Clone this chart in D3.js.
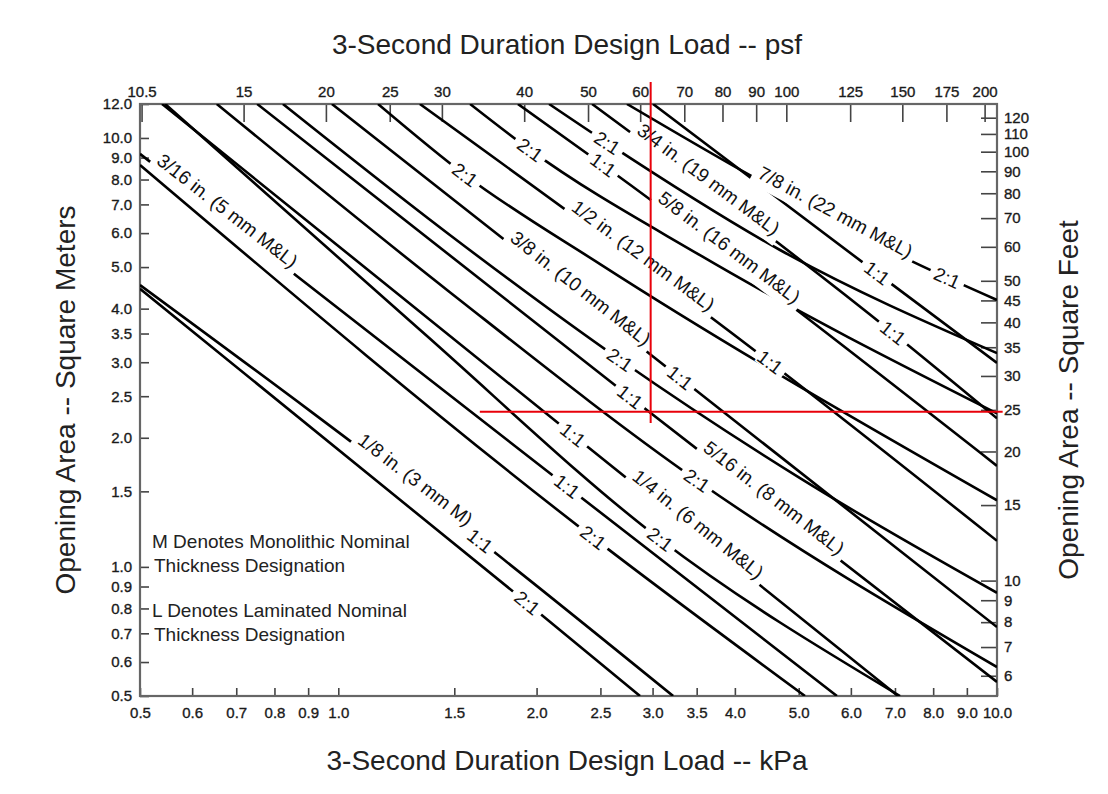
<!DOCTYPE html>
<html><head><meta charset="utf-8">
<script src="https://cdn.jsdelivr.net/npm/d3@7"></script>
<style>
body{margin:0;background:#fff}
svg{display:block}
text{font-family:"Liberation Sans",Arial,Helvetica,sans-serif}
</style>
</head><body>
<svg id="c" width="1108" height="794"></svg>
<script>
// ---- tick values ----
const kpaTicks = [0.5,0.6,0.7,0.8,0.9,1.0,1.5,2.0,2.5,3.0,3.5,4.0,5.0,6.0,7.0,8.0,9.0,10.0];
const psfTicks = [10.5,15,20,25,30,40,50,60,70,80,90,100,125,150,175,200];
const m2Ticks  = [12.0,10.0,9.0,8.0,7.0,6.0,5.0,4.0,3.5,3.0,2.5,2.0,1.5,1.0,0.9,0.8,0.7,0.6,0.5];
const ft2Ticks = [120,110,100,90,80,70,60,50,45,40,35,30,25,20,15,10,9,8,7,6];

// ---- curves: [kPa, m2] ----
const t18_11  = [[0.5,4.54],[1.641,1.15],[3.223,0.5]];
const t18_21  = [[0.5,4.45],[1.935,0.824],[2.871,0.5]];
const t316_11 = [[0.5,9.18],[2.224,1.54],[5.715,0.5]];
const t316_21 = [[0.5,8.65],[2.437,1.17],[5.111,0.5]];
const t14_11  = [[0.540,12.0],[2.271,2.03],[7.075,0.5]];
const t14_21  = [[0.546,12.0],[1.330,3.57],[3.080,1.16],[7.125,0.5]];
const t516_11 = [[0.753,12.0],[2.773,2.49],[10.0,0.539]];
const t516_21 = [[0.654,12.0],[1.477,4.37],[3.504,1.59],[10.0,0.584]];
const t38_11  = [[0.978,12.0],[3.302,2.76],[10.0,0.724]];
const t38_21  = [[0.824,12.0],[1.477,5.94],[2.677,3.04],[5.023,1.61],[10.0,0.870]];
const t12_11  = [[1.33,12.0],[4.523,3.00],[10.0,1.15]];
const t12_21  = [[1.149,12.0],[1.557,8.20],[2.497,5.08],[10.0,1.43]];
const t58_11  = [[1.874,12.0],[2.523,8.65],[10.0,1.72]];
const t58_21  = [[1.585,12.0],[1.955,9.38],[3.541,5.33],[10.0,2.28]];
const t34_11  = [[2.428,12.0],[6.953,3.51],[10.0,2.22]];
const t34_21  = [[2.089,12.0],[2.559,9.74],[4.684,5.48],[10.0,3.15]];
const t78_11  = [[3.005,12.0],[6.574,4.84],[10.0,2.99]];
const t78_21  = [[2.743,12.0],[4.262,8.11],[7.459,5.14],[10.0,4.19]];

const curves = {t18_11,t18_21,t316_11,t316_21,t14_11,t14_21,t516_11,t516_21,
  t38_11,t38_21,t12_11,t12_21,t58_11,t58_21,t34_11,t34_21,t78_11,t78_21};

// ---- in-line labels: [text, curve, kPa at label centre] ----
const labels = [
  ["1/8 in. (3 mm M)","t18_11",1.285],["1:1","t18_11",1.641],["2:1","t18_21",1.935],
  ["3/16 in. (5 mm M&L)","t316_11",0.666],["1:1","t316_11",2.224],["2:1","t316_21",2.437],
  ["1/4 in. (6 mm M&L)","t14_11",3.45],["1:1","t14_11",2.271],["2:1","t14_21",3.080],
  ["5/16 in. (8 mm M&L)","t516_11",4.50],["1:1","t516_11",2.773],["2:1","t516_21",3.504],
  ["3/8 in. (10 mm M&L)","t38_11",2.288],["1:1","t38_11",3.302],["2:1","t38_21",2.677],
  ["1/2 in. (12 mm M&L)","t12_11",2.85],["1:1","t12_11",4.523],["2:1","t12_21",1.557],
  ["5/8 in. (16 mm M&L)","t58_11",3.85],["1:1","t58_11",2.523],["2:1","t58_21",1.955],
  ["3/4 in. (19 mm M&L)","t34_11",3.58],["1:1","t34_11",6.953],["2:1","t34_21",2.559],
  ["7/8 in. (22 mm M&L)","t78_21",5.60],["1:1","t78_11",6.574],["2:1","t78_21",8.40]
];

// ---- red guide lines ----
const redV = [[2.98,13.5],[2.98,2.165]];
const redH = [[1.64,2.3],[10.2,2.3]];

const notes = ["M Denotes Monolithic Nominal","Thickness Designation","L Denotes Laminated Nominal","Thickness Designation"];

// ---- scales ----
const PSF = 20.8854, FT2 = 10.7639;
const x = d3.scaleLog().domain([0.5,10]).range([140,997]);
const y = d3.scaleLog().domain([0.5,12]).range([696,104]);
const xPsf = d3.scaleLog().domain([0.5*PSF,10*PSF]).range([140,997]);
const yFt = d3.scaleLog().domain([0.5*FT2,12*FT2]).range([696,104]);

const svg = d3.select("#c");
svg.append("rect").attr("width",1108).attr("height",794).attr("fill","#fff");

const fmt1 = d3.format(".1f");
function styleAxis(g){
  g.select(".domain").remove();
  g.selectAll(".tick line").attr("stroke","#444").attr("stroke-width",1.6);
  g.selectAll(".tick text").attr("fill","#1a1a1a").attr("font-size",15)
    .attr("stroke","#1a1a1a").attr("stroke-width",0.35)
    .attr("font-family","'Liberation Sans',Arial,sans-serif");
}
svg.append("g").attr("transform","translate(0,696)")
  .call(d3.axisBottom(x).tickValues(kpaTicks).tickFormat(fmt1).tickSizeInner(-8).tickSizeOuter(0).tickPadding(11))
  .call(styleAxis);
svg.append("g").attr("transform","translate(0,104)")
  .call(d3.axisTop(xPsf).tickValues(psfTicks).tickFormat(d=>String(d)).tickSizeInner(-18).tickSizeOuter(0).tickPadding(7))
  .call(styleAxis);
svg.append("g").attr("transform","translate(140,0)")
  .call(d3.axisLeft(y).tickValues(m2Ticks).tickFormat(fmt1).tickSizeInner(-9).tickSizeOuter(0).tickPadding(8))
  .call(styleAxis);
svg.append("g").attr("transform","translate(997,0)")
  .call(d3.axisRight(yFt).tickValues(ft2Ticks).tickFormat(d=>String(d)).tickSizeInner(-16).tickSizeOuter(0).tickPadding(7))
  .call(styleAxis);

// frame
svg.append("rect").attr("x",x(0.5)).attr("y",y(12)).attr("width",x(10)-x(0.5)).attr("height",y(0.5)-y(12))
  .attr("fill","none").attr("stroke","#666").attr("stroke-width",2.2);

// clip
svg.append("clipPath").attr("id","plot").append("rect")
  .attr("x",x(0.5)).attr("y",y(12)).attr("width",x(10)-x(0.5)).attr("height",y(0.5)-y(12));

const lineGen = d3.line().x(d=>x(d[0])).y(d=>y(d[1])).curve(d3.curveMonotoneX);
const gl = svg.append("g").attr("clip-path","url(#plot)");
const pathNodes = {};
Object.entries(curves).forEach(([k,v])=>{
  pathNodes[k] = gl.append("path").attr("d",lineGen(v)).attr("fill","none")
    .attr("stroke","#000").attr("stroke-width",2.6).attr("stroke-linecap","butt").node();
});

function pointAtX(node, px){
  const L = node.getTotalLength();
  let lo=0, hi=L;
  for(let i=0;i<40;i++){const m=(lo+hi)/2; if(node.getPointAtLength(m).x<px) lo=m; else hi=m;}
  const p=node.getPointAtLength(lo), a=node.getPointAtLength(Math.max(0,lo-8)), b=node.getPointAtLength(Math.min(L,lo+8));
  return {x:p.x,y:p.y,ang:Math.atan2(b.y-a.y,b.x-a.x)*180/Math.PI};
}

const glab = svg.append("g");
labels.forEach(([txt,key,kpa])=>{
  const long = txt.length > 4;
  const off = long ? 9 : 0;
  const p = pointAtX(pathNodes[key], x(kpa));
  const g = glab.append("g").attr("transform",`translate(${p.x},${p.y}) rotate(${p.ang})`);
  const r = g.append("rect").attr("fill","#fff");
  const t = g.append("text").attr("text-anchor","middle").attr("y",-off).attr("dy","0.35em")
    .attr("font-size",19).attr("fill","#111")
    .attr("stroke","#fff").attr("stroke-width",3).attr("paint-order","stroke").text(txt);
  const w = t.node().getComputedTextLength();
  r.attr("x",-w/2-5).attr("y",-6).attr("width",w+10).attr("height",12);
});

// notes
const gn = svg.append("g").attr("font-size",19).attr("fill","#222");
[[548,152],[572,154],[617,152],[641,154]].forEach((pos,i)=>{
  gn.append("text").attr("x",pos[1]).attr("y",pos[0]).text(notes[i]);
});

// red lines
const redLine = d3.line().x(d=>x(d[0])).y(d=>y(d[1]));
svg.append("path").attr("d",redLine(redV)).attr("stroke","#e8000a").attr("stroke-width",2).attr("fill","none");
svg.append("path").attr("d",redLine(redH)).attr("stroke","#e8000a").attr("stroke-width",2).attr("fill","none");

// titles
svg.append("text").attr("x",567).attr("y",54).attr("text-anchor","middle").attr("font-size",28).attr("fill","#222")
  .text("3-Second Duration Design Load -- psf");
svg.append("text").attr("x",567).attr("y",770).attr("text-anchor","middle").attr("font-size",28).attr("fill","#222")
  .text("3-Second Duration Design Load -- kPa");
svg.append("text").attr("transform","translate(75,400) rotate(-90)").attr("text-anchor","middle").attr("font-size",28).attr("fill","#222")
  .text("Opening Area -- Square Meters");
svg.append("text").attr("transform","translate(1078,400) rotate(-90)").attr("text-anchor","middle").attr("font-size",28).attr("fill","#222")
  .text("Opening Area -- Square Feet");
</script>
</body></html>
